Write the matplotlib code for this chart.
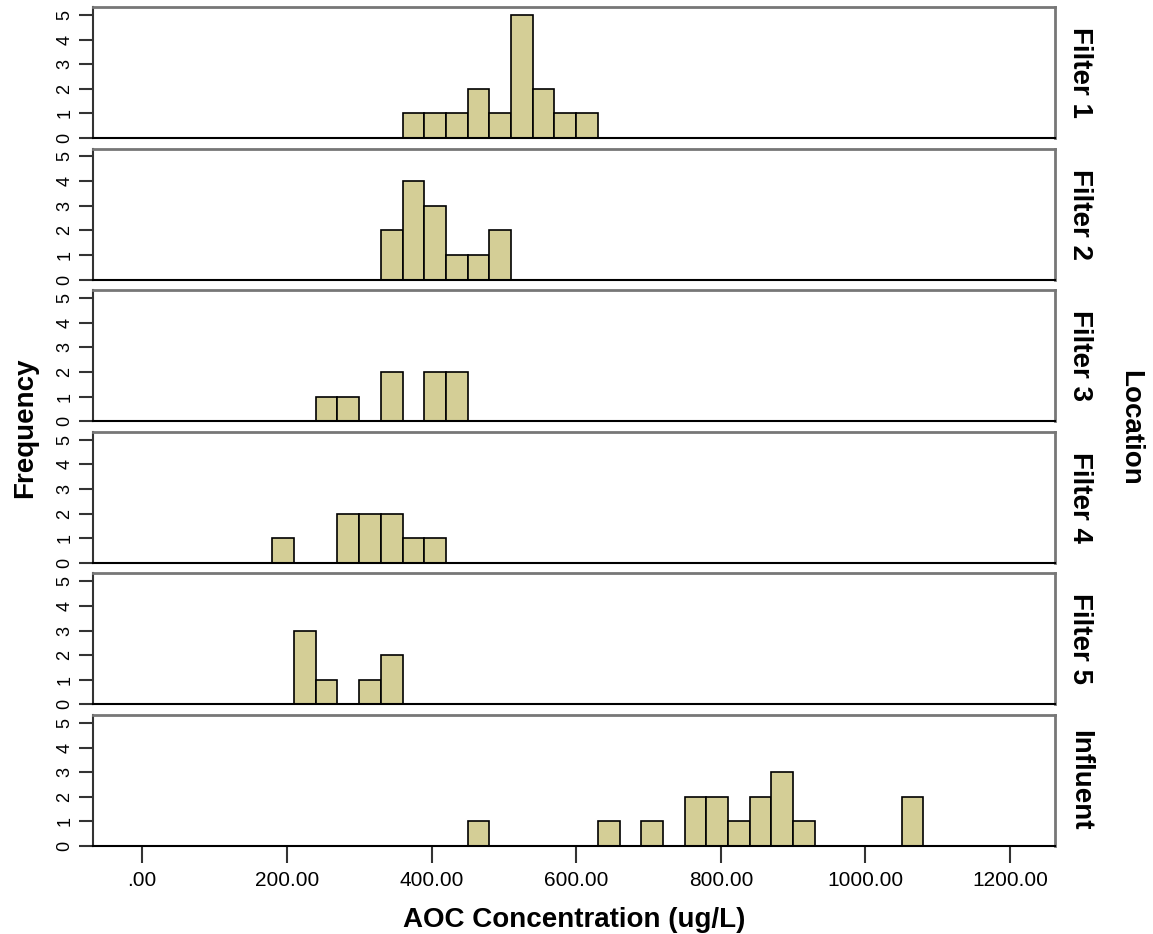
import matplotlib.pyplot as plt

plt.rcParams['font.family'] = ['Liberation Sans', 'DejaVu Sans']

# histogram bins (left edge, ug/L) and frequencies for each location
locations = ['Filter 1', 'Filter 2', 'Filter 3', 'Filter 4', 'Filter 5', 'Influent']

filter1_bins = [360, 390, 420, 450, 480, 510, 540, 570, 600]
filter1_counts = [1, 1, 1, 2, 1, 5, 2, 1, 1]

filter2_bins = [330, 360, 390, 420, 450, 480]
filter2_counts = [2, 4, 3, 1, 1, 2]

filter3_bins = [240, 270, 330, 390, 420]
filter3_counts = [1, 1, 2, 2, 2]

filter4_bins = [180, 270, 300, 330, 360, 390]
filter4_counts = [1, 2, 2, 2, 1, 1]

filter5_bins = [210, 240, 300, 330]
filter5_counts = [3, 1, 1, 2]

influent_bins = [450, 630, 690, 750, 780, 810, 840, 870, 900, 1050]
influent_counts = [1, 1, 1, 2, 2, 1, 2, 3, 1, 2]

bin_width = 30
x_ticks = [0, 200, 400, 600, 800, 1000, 1200]
x_labels = ['.00', '200.00', '400.00', '600.00', '800.00', '1000.00', '1200.00']
y_ticks = [0, 1, 2, 3, 4, 5]

all_bins = [filter1_bins, filter2_bins, filter3_bins, filter4_bins, filter5_bins, influent_bins]
all_counts = [filter1_counts, filter2_counts, filter3_counts, filter4_counts, filter5_counts, influent_counts]

W, H = 1153, 934
fig = plt.figure(figsize=(W / 100, H / 100), dpi=100)

left_px, right_px = 93, 1055
first_bottom, pitch, panel_h = 138, 141.6, 131

axes = []
for i in range(6):
    bottom_px = first_bottom + pitch * i
    ax = fig.add_axes([left_px / W, 1 - bottom_px / H, (right_px - left_px) / W, panel_h / H])
    ax.bar(all_bins[i], all_counts[i], width=bin_width, align='edge',
           color='#d4ce96', edgecolor='black', linewidth=1.2)
    ax.set_xlim(-68, 1262)
    ax.set_ylim(0, 5.32)
    ax.set_yticks(y_ticks)
    ax.set_yticklabels([str(t) for t in y_ticks], rotation=90, va='center', fontsize=13)
    ax.tick_params(axis='y', length=10, width=1.5, color='#333333', pad=4)
    for s in ['top', 'right']:
        ax.spines[s].set_color('#777777')
        ax.spines[s].set_linewidth(2)
    ax.spines['left'].set_color('#333333')
    ax.spines['left'].set_linewidth(1.5)
    ax.spines['bottom'].set_color('black')
    ax.spines['bottom'].set_linewidth(1.5)
    ax.text(1.026, 0.5, locations[i], transform=ax.transAxes, rotation=270,
            ha='center', va='center', fontsize=20, fontweight='bold')
    if i < 5:
        ax.set_xticks([])
    else:
        ax.set_xticks(x_ticks)
        ax.set_xticklabels(x_labels, fontsize=15)
        ax.tick_params(axis='x', length=12, width=1.5, color='#333333', pad=6)
    axes.append(ax)

axes[-1].set_xlabel('AOC Concentration (ug/L)', fontsize=20, fontweight='bold', labelpad=12)
fig.text(25 / W, 1 - 428 / H, 'Frequency', rotation=90, ha='center', va='center',
         fontsize=20, fontweight='bold')
fig.text(1130 / W, 1 - 428 / H, 'Location', rotation=270, ha='center', va='center',
         fontsize=20, fontweight='bold')

fig.savefig('out.png', dpi=100)
